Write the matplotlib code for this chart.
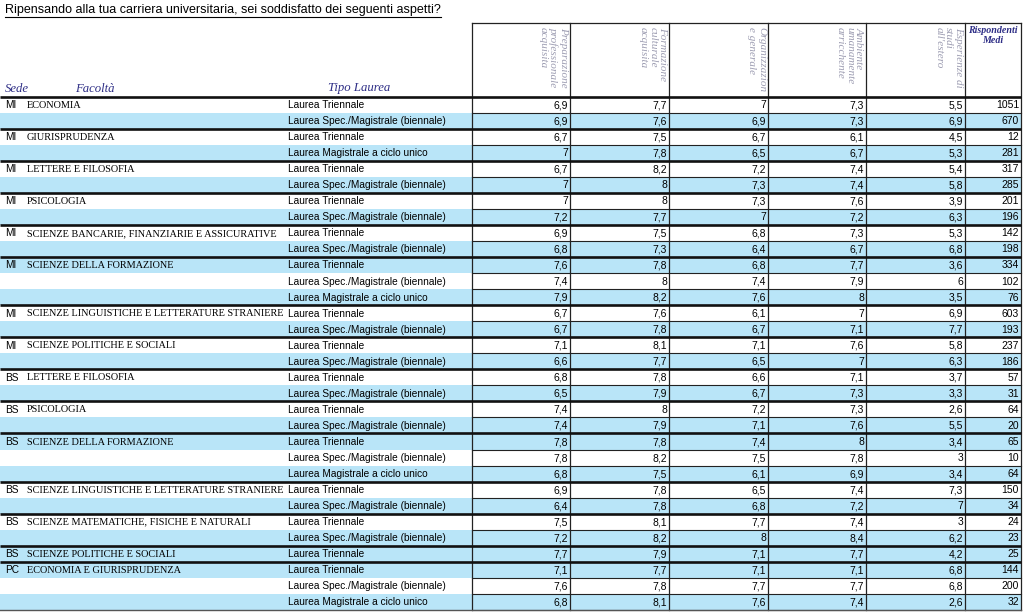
import matplotlib
matplotlib.use("Agg")
import matplotlib.pyplot as plt
from matplotlib.patches import Rectangle

title = "Ripensando alla tua carriera universitaria, sei soddisfatto dei seguenti aspetti?"

col_headers = ["Preparazione\nprofessionale\nacquisita",
               "Formazione\nculturale\nacquisita",
               "Organizzazion\ne generale",
               "Ambiente\numanamente\narricchente",
               "Esperienze di\nstudi\nall'estero"]
resp_header = "Rispondenti\nMedi"

T = "Laurea Triennale"
SM = "Laurea Spec./Magistrale (biennale)"
MCU = "Laurea Magistrale a ciclo unico"

sede = ["MI", "", "MI", "", "MI", "", "MI", "", "MI", "",
        "MI", "", "", "MI", "", "MI", "", "BS", "", "BS", "",
        "BS", "", "", "BS", "", "BS", "", "BS", "PC", "", ""]
facolta = ["ECONOMIA", "", "GIURISPRUDENZA", "", "LETTERE E FILOSOFIA", "",
           "PSICOLOGIA", "", "SCIENZE BANCARIE, FINANZIARIE E ASSICURATIVE", "",
           "SCIENZE DELLA FORMAZIONE", "", "",
           "SCIENZE LINGUISTICHE E LETTERATURE STRANIERE", "",
           "SCIENZE POLITICHE E SOCIALI", "",
           "LETTERE E FILOSOFIA", "", "PSICOLOGIA", "",
           "SCIENZE DELLA FORMAZIONE", "", "",
           "SCIENZE LINGUISTICHE E LETTERATURE STRANIERE", "",
           "SCIENZE MATEMATICHE, FISICHE E NATURALI", "",
           "SCIENZE POLITICHE E SOCIALI",
           "ECONOMIA E GIURISPRUDENZA", "", ""]
tipo = [T, SM, T, MCU, T, SM, T, SM, T, SM,
        T, SM, MCU, T, SM, T, SM, T, SM, T, SM,
        T, SM, MCU, T, SM, T, SM, T, T, SM, MCU]

preparazione = [6.9, 6.9, 6.7, 7, 6.7, 7, 7, 7.2, 6.9, 6.8,
                7.6, 7.4, 7.9, 6.7, 6.7, 7.1, 6.6, 6.8, 6.5, 7.4, 7.4,
                7.8, 7.8, 6.8, 6.9, 6.4, 7.5, 7.2, 7.7, 7.1, 7.6, 6.8]
formazione = [7.7, 7.6, 7.5, 7.8, 8.2, 8, 8, 7.7, 7.5, 7.3,
              7.8, 8, 8.2, 7.6, 7.8, 8.1, 7.7, 7.8, 7.9, 8, 7.9,
              7.8, 8.2, 7.5, 7.8, 7.8, 8.1, 8.2, 7.9, 7.7, 7.8, 8.1]
organizzazione = [7, 6.9, 6.7, 6.5, 7.2, 7.3, 7.3, 7, 6.8, 6.4,
                  6.8, 7.4, 7.6, 6.1, 6.7, 7.1, 6.5, 6.6, 6.7, 7.2, 7.1,
                  7.4, 7.5, 6.1, 6.5, 6.8, 7.7, 8, 7.1, 7.1, 7.7, 7.6]
ambiente = [7.3, 7.3, 6.1, 6.7, 7.4, 7.4, 7.6, 7.2, 7.3, 6.7,
            7.7, 7.9, 8, 7, 7.1, 7.6, 7, 7.1, 7.3, 7.3, 7.6,
            8, 7.8, 6.9, 7.4, 7.2, 7.4, 8.4, 7.7, 7.1, 7.7, 7.4]
estero = [5.5, 6.9, 4.5, 5.3, 5.4, 5.8, 3.9, 6.3, 5.3, 6.8,
          3.6, 6, 3.5, 6.9, 7.7, 5.8, 6.3, 3.7, 3.3, 2.6, 5.5,
          3.4, 3, 3.4, 7.3, 7, 3, 6.2, 4.2, 6.8, 6.8, 2.6]
rispondenti = [1051, 670, 12, 281, 317, 285, 201, 196, 142, 198,
               334, 102, 76, 603, 193, 237, 186, 57, 31, 64, 20,
               65, 10, 64, 150, 34, 24, 23, 25, 144, 200, 32]

metrics = [preparazione, formazione, organizzazione, ambiente, estero]

# ---- layout (pixel-like coordinates) ----
W, H = 1024, 615
BLUE = "#b9e5f8"
NAVY = "#2e2e86"
HEAD_GRAY = "#9d9db2"
col_edges = [472, 570, 669, 768, 866, 965, 1021]
head_top, head_bot = 23, 96.5
n = len(tipo)
row_h = (610 - head_bot) / n

fig = plt.figure(figsize=(W / 100, H / 100), dpi=100)
ax = fig.add_axes([0, 0, 1, 1])
ax.set_xlim(0, W)
ax.set_ylim(H, 0)
ax.axis("off")

# group structure
starts = [i for i, s in enumerate(sede) if s]
ends = starts[1:] + [n]
blue_rows = set()
for s0, e0 in zip(starts, ends):
    for i in range(s0, e0):
        if (e0 - 1 - i) % 2 == 0:
            blue_rows.add(i)

def fmt(v):
    if float(v).is_integer():
        return str(int(v))
    return f"{v:.1f}".replace(".", ",")

sans = "Liberation Sans"
serif = "Liberation Serif"

for i in range(n):
    y0 = head_bot + i * row_h
    yc = y0 + row_h / 2 + 0.5
    if i in blue_rows:
        ax.add_patch(Rectangle((0, y0), col_edges[-1], row_h, facecolor=BLUE,
                               edgecolor="none", zorder=0))
    if sede[i]:
        ax.text(5, yc, sede[i], fontsize=7.3, family=sans, va="center", ha="left")
        ax.text(27, yc, facolta[i], fontsize=7.4, family=serif, va="center", ha="left")
    ax.text(288, yc, tipo[i], fontsize=7.3, family=sans, va="center", ha="left")
    for j, m in enumerate(metrics):
        ax.text(col_edges[j + 1] - 2, yc, fmt(m[i]), fontsize=7.5, family=sans,
                va="center", ha="right")
    ax.text(col_edges[-1] - 2, yc, fmt(rispondenti[i]), fontsize=7.5, family=sans,
            va="center", ha="right")
    # thin line at the bottom of rows within table area
    if i + 1 not in starts:
        ax.plot([col_edges[0], col_edges[-1]], [y0 + row_h, y0 + row_h],
                color="#222222", lw=0.8, zorder=2)

# group separators
for s0 in starts:
    y = head_bot + s0 * row_h
    ax.plot([0, col_edges[-1]], [y, y], color="#111111", lw=1.9, zorder=3,
            solid_capstyle="butt")
ybot = head_bot + n * row_h
ax.plot([0, col_edges[-1]], [ybot, ybot], color="#555555", lw=1.0, zorder=3)

# vertical lines in table
for x in col_edges:
    ax.plot([x, x], [head_top, ybot], color="#222222", lw=0.9, zorder=2)
ax.plot([col_edges[0], col_edges[-1]], [head_top, head_top], color="#222222", lw=0.9)

# header labels
for j, h in enumerate(col_headers):
    ax.text(col_edges[j + 1] - 2, head_top + 4, h, rotation=-90, fontsize=8.0,
            family=serif, style="italic", color=HEAD_GRAY, ha="right", va="top",
            multialignment="left", linespacing=1.12)
ax.text((col_edges[-2] + col_edges[-1]) / 2, head_top + 3, resp_header,
        fontsize=7.2, family=serif, style="italic", weight="bold", color=NAVY,
        ha="center", va="top", linespacing=1.1)

ax.text(5, 88.5, "Sede", fontsize=9.2, family=serif, style="italic", color=NAVY,
        ha="left", va="center")
ax.text(75, 88.5, "Facoltà", fontsize=9.2, family=serif, style="italic", color=NAVY,
        ha="left", va="center")
ax.text(328, 88.5, "Tipo Laurea", fontsize=9.2, family=serif, style="italic", color=NAVY,
        ha="left", va="center")

# title with underline
t = ax.text(5, 10.5, title, fontsize=9.0, family=sans, ha="left", va="center")
fig.canvas.draw()
bb = t.get_window_extent()
inv = ax.transData.inverted()
(x0, _), (x1, _) = inv.transform([(bb.x0, bb.y0), (bb.x1, bb.y0)])
ax.plot([x0, x1], [17, 17], color="black", lw=0.8)

fig.savefig("out.png", dpi=100)
